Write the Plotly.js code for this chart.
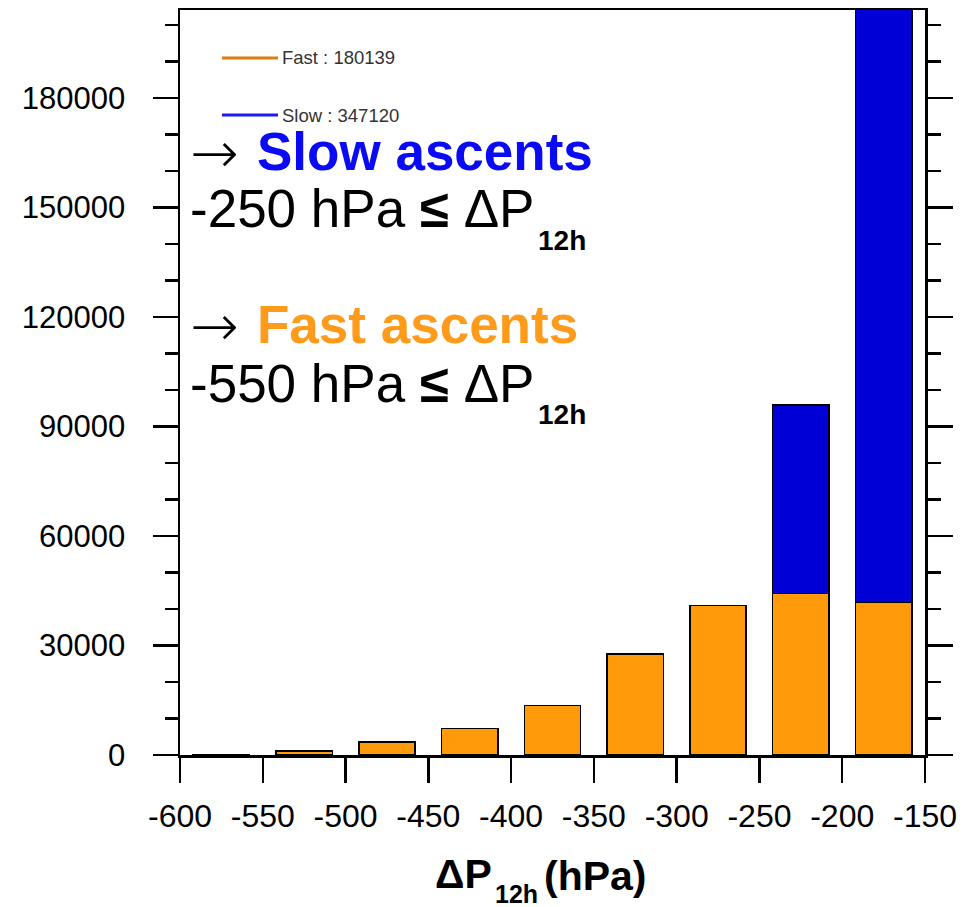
<!DOCTYPE html>
<html>
<head>
<meta charset="utf-8">
<script src="https://cdn.plot.ly/plotly-3.0.1.min.js"></script>
<style>html,body{margin:0;padding:0;background:#fff;}#chart{width:979px;height:907px;}</style>
</head>
<body>
<div id="chart"></div>
<script>
// Bin centres of ΔP12h (hPa), 50 hPa bins from -600 to -150
const binCenters = [-575, -525, -475, -425, -375, -325, -275, -225, -175];
// Counts per bin
const fastCounts = [100, 1100, 3500, 7300, 13500, 27700, 40900, 44200, 41800];
const slowCounts = [0, 0, 0, 0, 0, 0, 0, 51700, 295420];
// Legend labels and totals
const seriesNames = ['Fast', 'Slow'];
const seriesTotals = [180139, 347120];
// Axis ticks
const xTickVals = [-600, -550, -500, -450, -400, -350, -300, -250, -200, -150];
const xTickText = ['-600', '-550', '-500', '-450', '-400', '-350', '-300', '-250', '-200', '-150'];
const yTickVals = [0, 30000, 60000, 90000, 120000, 150000, 180000];
const yTickText = ['0', '30000', '60000', '90000', '120000', '150000', '180000'];

const FONT = 'Liberation Sans, Arial, Helvetica, sans-serif';
const orangeBar = '#FF9A0A';
const blueBar = '#0000D6';

// pixel -> paper helpers (plot area: x 180..925, y 10..755)
const L = 180, R = 925, T = 10, B = 755;
const px = x => (x - L) / (R - L);
const py = y => (B - y) / (B - T);

const traces = [
  {type: 'bar', x: binCenters, y: fastCounts, name: seriesNames[0], showlegend: false,
   marker: {color: orangeBar, line: {color: '#000', width: 1.5}}},
  {type: 'bar', x: binCenters, y: slowCounts, name: seriesNames[1], showlegend: false,
   marker: {color: blueBar, line: {color: '#000', width: 1.5}}}
];

function ann(text, x, y, size, opts) {
  return Object.assign({text: text, xref: 'paper', yref: 'paper', x: px(x), y: py(y),
    xanchor: 'left', yanchor: 'middle', showarrow: false, borderpad: 0,
    font: {family: FONT, size: size, color: '#000'}}, opts || {});
}
const ARROWFONT = {family: 'DejaVu Sans, sans-serif', size: 58, color: '#000', weight: 300};

const annotations = [
  // legend
  ann(seriesNames[0] + ' : ' + seriesTotals[0], 281, 58, 18.5, {font: {family: FONT, size: 18.5, color: '#333'}}),
  ann(seriesNames[1] + ' : ' + seriesTotals[1], 281, 115, 18.5, {font: {family: FONT, size: 18.5, color: '#333'}}),
  // big labels
  ann("→", 189, 153, 58, {font: ARROWFONT}),
  ann("<b>Slow ascents</b>", 256, 151, 53, {font: {family: FONT, size: 53, color: '#0A0AF5'}}),
  ann("-250 hPa <b>≤</b> ΔP", 189, 209, 53),
  ann("<b>12h</b>", 537, 241, 28),
  ann("→", 189, 326, 58, {font: ARROWFONT}),
  ann("<b>Fast ascents</b>", 256, 324, 53, {font: {family: FONT, size: 53, color: '#FF9A1A'}}),
  ann("-550 hPa <b>≤</b> ΔP", 189, 383, 53),
  ann("<b>12h</b>", 537, 414, 28),
  // x-axis title
  ann("<b>ΔP</b>", 493, 874, 41, {xanchor: 'right'}),
  ann("<b>12h</b>", 494, 894, 25),
  ann("<b>(hPa)</b>", 543, 876, 41)
];

const shapes = [
  {type: 'line', xref: 'paper', yref: 'paper', x0: px(222), x1: px(278), y0: py(58), y1: py(58),
   line: {color: '#E07B12', width: 3}},
  {type: 'line', xref: 'paper', yref: 'paper', x0: px(222), x1: px(278), y0: py(115), y1: py(115),
   line: {color: '#1A1AFF', width: 3}}
];

const layout = {
  width: 979, height: 907,
  margin: {l: L, r: 979 - R, t: T, b: 907 - B, pad: 0},
  paper_bgcolor: '#fff', plot_bgcolor: '#fff',
  barmode: 'stack', bargap: 0.32,
  showlegend: false,
  font: {family: FONT, color: '#000'},
  xaxis: {
    range: [-600, -150], tickmode: 'array', tickvals: xTickVals, ticktext: xTickText,
    ticks: 'outside', ticklen: 25, tickwidth: 2.5, tickcolor: '#000',
    showline: true, linecolor: '#000', linewidth: 2.5, mirror: true,
    showgrid: false, zeroline: false,
    tickfont: {family: FONT, size: 32, color: '#000'},
    ticklabelstandoff: 6
  },
  yaxis: {
    range: [0, 204100], tickmode: 'array', tickvals: yTickVals, ticktext: yTickText,
    ticks: 'outside', ticklen: 25, tickwidth: 2.5, tickcolor: '#000',
    minor: {dtick: 10000, tick0: 0, ticks: 'outside', ticklen: 13, tickwidth: 2.5, tickcolor: '#000'},
    showline: true, linecolor: '#000', linewidth: 2.5, mirror: 'ticks',
    showgrid: false, zeroline: false,
    tickfont: {family: FONT, size: 31, color: '#000'},
    ticklabelstandoff: 21
  },
  annotations: annotations,
  shapes: shapes
};

Plotly.newPlot('chart', traces, layout, {displayModeBar: false, staticPlot: true});
</script>
</body>
</html>
